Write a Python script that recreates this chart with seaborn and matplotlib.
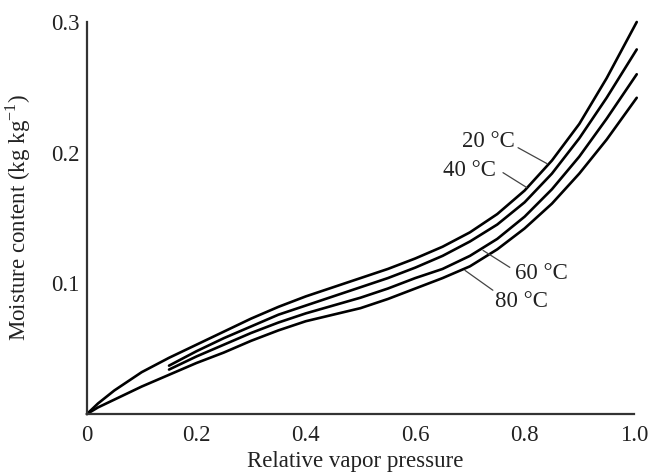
import matplotlib
matplotlib.use("Agg")
import matplotlib.pyplot as plt
import seaborn as sns
import pandas as pd

# ---- data ----
x_full = [0, 0.02, 0.05, 0.10, 0.15, 0.20, 0.25, 0.30, 0.35, 0.40, 0.45, 0.50,
          0.55, 0.60, 0.65, 0.70, 0.75, 0.80, 0.85, 0.90, 0.95, 1.005]
m20 = [0, 0.008, 0.018, 0.032, 0.043, 0.053, 0.063, 0.073, 0.082, 0.090, 0.097, 0.104,
       0.111, 0.119, 0.128, 0.139, 0.153, 0.171, 0.194, 0.222, 0.257, 0.300]
m80 = [0, 0.005, 0.011, 0.021, 0.030, 0.039, 0.047, 0.056, 0.064, 0.071, 0.076, 0.081,
       0.088, 0.096, 0.104, 0.113, 0.126, 0.142, 0.161, 0.184, 0.210, 0.242]

x_part = [0.15, 0.20, 0.25, 0.30, 0.35, 0.40, 0.45, 0.50,
          0.55, 0.60, 0.65, 0.70, 0.75, 0.80, 0.85, 0.90, 0.95, 1.005]
m40 = [0.037, 0.048, 0.058, 0.067, 0.076, 0.083, 0.090, 0.097,
       0.104, 0.112, 0.121, 0.132, 0.145, 0.162, 0.184, 0.211, 0.242, 0.279]
m60 = [0.034, 0.044, 0.053, 0.062, 0.070, 0.077, 0.083, 0.089,
       0.096, 0.104, 0.111, 0.121, 0.134, 0.151, 0.172, 0.197, 0.226, 0.260]

x_ticks = [0, 0.2, 0.4, 0.6, 0.8, 1.0]
x_ticklabels = ["0", "0.2", "0.4", "0.6", "0.8", "1.0"]
y_ticks = [0.1, 0.2, 0.3]
y_ticklabels = ["0.1", "0.2", "0.3"]
labels = ["20 °C", "40 °C", "60 °C", "80 °C"]

sns.set_theme(style="white")
plt.rcParams["font.family"] = ["Liberation Serif", "DejaVu Serif"]
plt.rcParams["mathtext.fontset"] = "custom"
plt.rcParams["mathtext.rm"] = "Liberation Serif"

FS = 16.5
TXT = "#222222"

fig = plt.figure(figsize=(6.52, 4.72), dpi=100)
ax = fig.add_axes([0.1334, 0.1229, 0.8390, 0.8305])

series = [(x_full, m20), (x_part, m40), (x_part, m60), (x_full, m80)]
for (xs, ys), lab in zip(series, labels):
    df = pd.DataFrame({"x": xs, "y": ys})
    sns.lineplot(data=df, x="x", y="y", ax=ax, color="black", linewidth=1.9,
                 sort=False, estimator=None, clip_on=False)

ax.set_xlim(0, 1.0)
ax.set_ylim(0, 0.3)
ax.set_xticks(x_ticks)
ax.set_xticklabels(x_ticklabels)
ax.set_yticks(y_ticks)
ax.set_yticklabels(y_ticklabels)

for s in ["top", "right"]:
    ax.spines[s].set_visible(False)
for s in ["left", "bottom"]:
    ax.spines[s].set_color("#333333")
    ax.spines[s].set_linewidth(1.6)

ax.tick_params(axis="both", direction="in", length=6, width=1.4, color="#333333",
               labelsize=FS, labelcolor=TXT)
ax.tick_params(axis="x", pad=8)
ax.tick_params(axis="y", pad=5.5)

ax.set_xlabel("Relative vapor pressure", fontsize=FS, color=TXT)
ax.set_ylabel("Moisture content (kg kg$^{-1}$)", fontsize=FS, color=TXT)
ax.xaxis.set_label_coords(0.49, -0.094)
ax.yaxis.set_label_coords(-0.099, 0.5)

# curve labels with leader lines (layout positions)
ann = [
    ("20 °C", (0.686, 0.2084), (0.788, 0.2038), (0.841, 0.1916)),
    ("40 °C", (0.651, 0.1863), (0.7605, 0.1847), (0.804, 0.1733)),
    ("60 °C", (0.7825, 0.1076), (0.773, 0.1122), (0.724, 0.1252)),
    ("80 °C", (0.746, 0.0863), (0.742, 0.0947), (0.691, 0.1099)),
]
for text, tpos, l0, l1 in ann:
    ax.text(tpos[0], tpos[1], text, fontsize=FS, color=TXT,
            ha="left", va="center")
    ax.plot([l0[0], l1[0]], [l0[1], l1[1]], color="#444444", linewidth=0.9)

fig.savefig("out.png", dpi=100)
